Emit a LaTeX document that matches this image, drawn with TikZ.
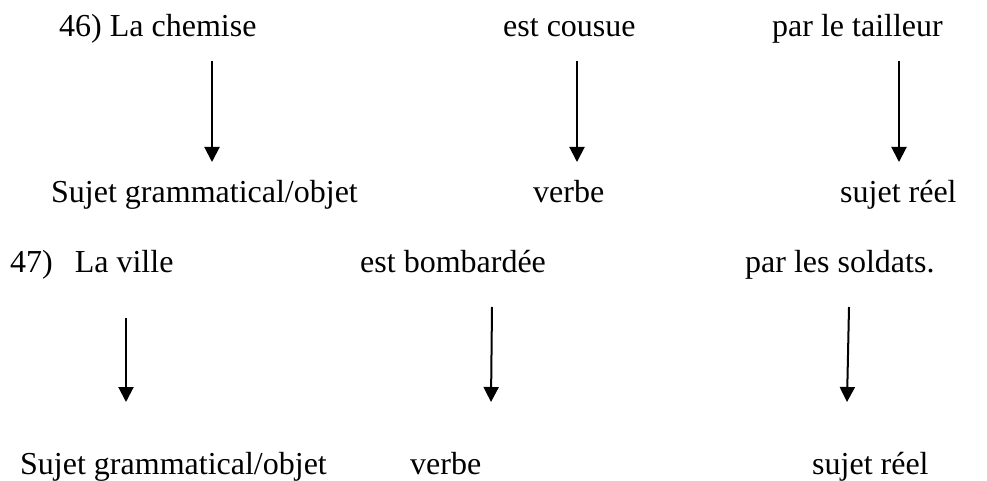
\documentclass[tikz,border=0pt]{standalone}
\usepackage{fontspec}
\setmainfont{Liberation Serif}
\usetikzlibrary{arrows.meta}
\begin{document}
\begin{tikzpicture}[x=1pt,y=-1pt,
  word/.style={anchor=base west,inner sep=0pt,font=\fontsize{32}{38}\selectfont},
  link/.style={line width=2pt,-{Triangle[length=15pt,width=15pt]}}]
\useasboundingbox (0,0) rectangle (987,481);
% row 1
\node[word] (t1) at (59,37) {46) La chemise};
\node[word] (t2) at (503,37) {est cousue};
\node[word] (t3) at (772,37) {par le tailleur};
% row 2
\node[word] (b1) at (51,202) {Sujet grammatical/objet};
\node[word] (b2) at (533,202) {verbe};
\node[word] (b3) at (840,202) {sujet réel};
% row 3
\node[word] (u1) at (10,272) {47)\hspace{22pt}La ville};
\node[word] (u2) at (360,272) {est bombardée};
\node[word] (u3) at (745,272) {par les soldats.};
% row 4
\node[word] (v1) at (20,474) {Sujet grammatical/objet};
\node[word] (v2) at (410,474) {verbe};
\node[word] (v3) at (812,474) {sujet réel};
% arrow ends
\coordinate (a1s) at (212,61);  \coordinate (a1e) at (212,162);
\coordinate (a2s) at (577,61);  \coordinate (a2e) at (577,162);
\coordinate (a3s) at (899,61);  \coordinate (a3e) at (899,162);
\coordinate (a4s) at (126,318); \coordinate (a4e) at (126,402);
\coordinate (a5s) at (492,307); \coordinate (a5e) at (491,402);
\coordinate (a6s) at (849,307); \coordinate (a6e) at (847,402);
\draw[link] (a1s) -- (a1e);
\draw[link] (a2s) -- (a2e);
\draw[link] (a3s) -- (a3e);
\draw[link] (a4s) -- (a4e);
\draw[link] (a5s) -- (a5e);
\draw[link] (a6s) -- (a6e);
\end{tikzpicture}
\end{document}
